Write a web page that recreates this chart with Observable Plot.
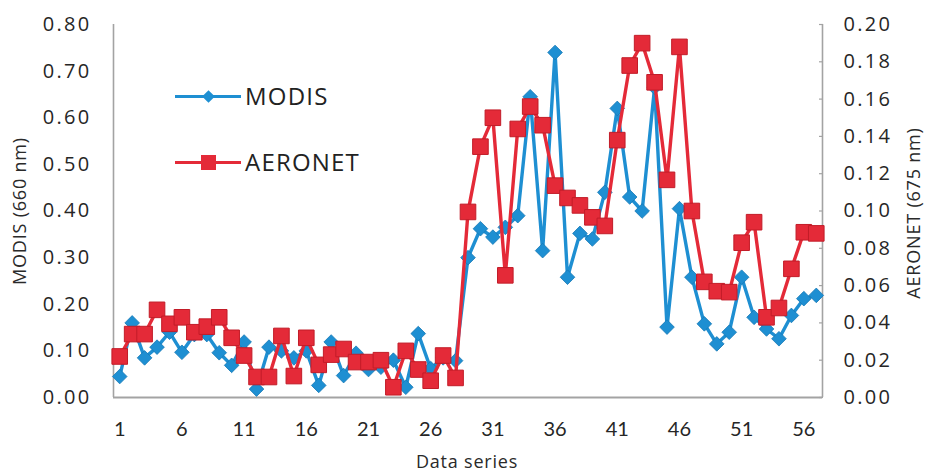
<!DOCTYPE html>
<html>
<head>
<meta charset="utf-8">
<script src="https://cdn.jsdelivr.net/npm/d3@7"></script>
<script src="https://cdn.jsdelivr.net/npm/@observablehq/plot@0.6"></script>
<style>
  body { margin: 0; background: #fff; }
  #wrap { position: relative; width: 929px; height: 473px; font-family: "Open Sans", sans-serif; color: #2a2a2a; }
  #wrap svg { position: absolute; left: 0; top: 0; }
  g[aria-label="y-axis tick label"] text { letter-spacing: 2.3px; }
  .title { position: absolute; white-space: nowrap; font-size: 18px; letter-spacing: 0.8px; color: #2a2a2a; }
  .rot { transform: translate(-50%, -50%) rotate(-90deg); }
  .legend { position: absolute; left: 175px; font-size: 24px; letter-spacing: 1.2px; color: #222; }
  .legend .swatch { position: absolute; left: 0; width: 66px; height: 3px; }
  .legend .mk { position: absolute; }
  .legend .lab { position: absolute; left: 70px; top: 0; line-height: 24px; white-space: nowrap; }
</style>
</head>
<body>
<div id="wrap"></div>
<script>
// Data series index (1..57)
const series = d3.range(1, 58);

// MODIS AOD at 660 nm (left axis)
const modis = [
  0.045, 0.160, 0.085, 0.108, 0.140, 0.097, 0.135, 0.135, 0.096, 0.069,
  0.119, 0.018, 0.108, 0.100, 0.085, 0.100, 0.026, 0.119, 0.047, 0.095,
  0.060, 0.065, 0.080, 0.022, 0.137, 0.062, 0.085, 0.079, 0.300, 0.362,
  0.344, 0.365, 0.390, 0.645, 0.315, 0.740, 0.258, 0.352, 0.340, 0.440,
  0.620, 0.430, 0.400, 0.665, 0.151, 0.405, 0.258, 0.158, 0.115, 0.140,
  0.258, 0.172, 0.147, 0.126, 0.176, 0.212, 0.219
];

// AERONET AOD at 675 nm (right axis)
const aeronet = [
  0.0220, 0.0340, 0.0340, 0.0470, 0.0395, 0.0430, 0.0350, 0.0380, 0.0430, 0.0320,
  0.0225, 0.0110, 0.0110, 0.0330, 0.0115, 0.0320, 0.0175, 0.0230, 0.0260, 0.0190,
  0.0190, 0.0200, 0.0055, 0.0250, 0.0150, 0.0090, 0.0225, 0.0105, 0.0995, 0.1345,
  0.1500, 0.0655, 0.1440, 0.1560, 0.1460, 0.1136, 0.1070, 0.1030, 0.0966, 0.0920,
  0.1380, 0.1780, 0.1900, 0.1690, 0.1167, 0.1880, 0.1000, 0.0620, 0.0570, 0.0565,
  0.0830, 0.0940, 0.0430, 0.0480, 0.0690, 0.0886, 0.0880
];

// Tick values
const xTicks = [1, 6, 11, 16, 21, 26, 31, 36, 41, 46, 51, 56];
const leftTicks = [0, 0.1, 0.2, 0.3, 0.4, 0.5, 0.6, 0.7, 0.8];
const rightTicks = [0, 0.02, 0.04, 0.06, 0.08, 0.10, 0.12, 0.14, 0.16, 0.18, 0.20];

// Right axis range maps onto the left one
const ratio = 0.8 / 0.2;

const blue = "#1e8fd2";
const red = "#e42a38";
const axisGray = "#a3a3a3";
const ink = "#262626";

const rows = series.map((i, k) => ({i, modis: modis[k], aeronet: aeronet[k]}));

const chart = Plot.plot({
  width: 929,
  height: 473,
  marginLeft: 113,
  marginRight: 107,
  marginTop: 24,
  marginBottom: 76,
  style: {fontFamily: "Open Sans, sans-serif", color: ink, background: "transparent"},
  x: {domain: [0.5, 57.5]},
  y: {domain: [0, 0.8]},
  marks: [
    Plot.ruleX([0.5], {stroke: axisGray, strokeWidth: 1.6}),
    Plot.ruleX([57.5], {stroke: axisGray, strokeWidth: 1.6}),
    Plot.ruleY([0], {stroke: axisGray, strokeWidth: 2}),
    Plot.axisY(leftTicks, {
      anchor: "left", tickSize: 0, tickPadding: 22, label: null,
      tickFormat: d => d.toFixed(2), fontSize: 20, fontWeight: 500, fill: ink
    }),
    Plot.axisY(rightTicks.map(v => v * ratio), {
      anchor: "right", tickSize: 0, tickPadding: 21, label: null,
      tickFormat: d => (d / ratio).toFixed(2), fontSize: 20, fontWeight: 500, fill: ink
    }),
    Plot.axisY(rightTicks.map(v => v * ratio), {
      anchor: "right", tickSize: -4, label: null, tickFormat: () => "",
      stroke: axisGray, strokeWidth: 1.2
    }),
    Plot.axisX(xTicks, {
      tickSize: 0, tickPadding: 24, label: null,
      fontSize: 20, fontFamily: "Lato, sans-serif", fill: ink
    }),
    Plot.line(rows, {x: "i", y: "modis", stroke: blue, strokeWidth: 3.4}),
    Plot.dot(rows, {x: "i", y: "modis", symbol: "diamond2", r: 6.6, fill: blue, stroke: "#1679b5", strokeWidth: 0.8}),
    Plot.line(rows, {x: "i", y: d => d.aeronet * ratio, stroke: red, strokeWidth: 3.4}),
    Plot.dot(rows, {x: "i", y: d => d.aeronet * ratio, symbol: "square", r: 8.8, fill: red, stroke: "#c21c28", strokeWidth: 1})
  ]
});

const wrap = document.getElementById("wrap");
wrap.appendChild(chart);

// Axis titles
function addTitle(text, left, top, rotated) {
  const el = document.createElement("div");
  el.className = "title" + (rotated ? " rot" : "");
  el.textContent = text;
  el.style.left = left + "px";
  el.style.top = top + "px";
  if (!rotated) el.style.transform = "translate(-50%, -50%)";
  wrap.appendChild(el);
}
addTitle("MODIS (660 nm)", 19, 211, true);
addTitle("AERONET (675 nm)", 913, 213, true);
addTitle("Data series", 467, 461, false);

// Legend
function addLegend(label, color, top, marker) {
  const g = document.createElement("div");
  g.className = "legend";
  g.style.top = top + "px";
  const sw = document.createElement("div");
  sw.className = "swatch";
  sw.style.background = color;
  sw.style.top = "11px";
  g.appendChild(sw);
  const mk = document.createElement("div");
  mk.className = "mk";
  mk.style.background = color;
  if (marker === "diamond") {
    mk.style.width = "9px"; mk.style.height = "9px";
    mk.style.left = "28.5px"; mk.style.top = "8px";
    mk.style.transform = "rotate(45deg)";
  } else {
    mk.style.width = "15px"; mk.style.height = "15px";
    mk.style.left = "25.5px"; mk.style.top = "5px";
  }
  g.appendChild(mk);
  const lab = document.createElement("div");
  lab.className = "lab";
  lab.textContent = label;
  g.appendChild(lab);
  wrap.appendChild(g);
}
addLegend("MODIS", blue, 84, "diamond");
addLegend("AERONET", red, 150, "square");
</script>
</body>
</html>
